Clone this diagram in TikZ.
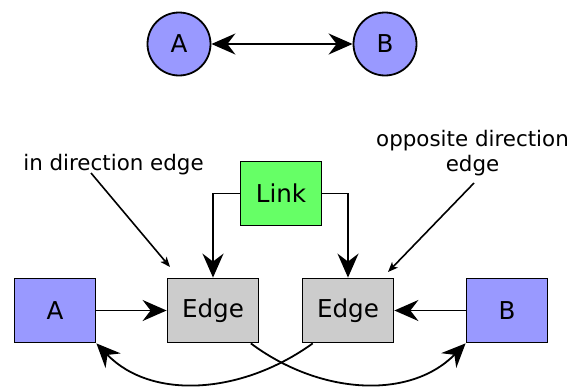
\documentclass[tikz,border=0pt]{standalone}
\usepackage{fontspec}
\setmainfont{DejaVu Sans}
\usetikzlibrary{arrows.meta}
\definecolor{nodeblue}{HTML}{9999FF}
\definecolor{linkgreen}{HTML}{66FF66}
\definecolor{edgegray}{HTML}{CCCCCC}
\begin{document}
\begin{tikzpicture}[x=1pt,y=-1pt,
  >={Stealth[length=24pt,width=21pt,inset=8pt]},
  every node/.style={font=\fontsize{24.6}{29}\selectfont},
  vertex/.style={circle,draw,line width=1.8pt,fill=nodeblue,minimum size=63pt,inner sep=0pt},
  boxbase/.style={rectangle,draw,line width=1.8pt,minimum height=64pt,inner sep=0pt},
  endbox/.style={boxbase,fill=nodeblue,minimum width=81pt},
  edgebox/.style={boxbase,fill=edgegray,minimum width=91pt},
  linkbox/.style={boxbase,fill=linkgreen,minimum width=81pt},
  conn/.style={line width=1.8pt,->},
  note/.style={font=\fontsize{21.4}{25}\selectfont,inner sep=0pt,align=center},
  pointer/.style={line width=1.6pt,-{Stealth[length=10pt,width=8pt,inset=2.5pt]}}]
\useasboundingbox (0,0) rectangle (571,388);

% graph view: two vertices joined by a bidirectional edge
\node[vertex] (cA) at (179,44) {A};
\node[vertex] (cB) at (385,44) {B};
\draw[line width=1.8pt,<->] (cA) -- (cB);

% data structure view
\node[endbox]  (a)    at (55,310.5)  {A};
\node[edgebox] (e1)   at (213,310.5) {Edge};
\node[edgebox] (e2)   at (348,310.5) {Edge};
\node[endbox]  (b)    at (507,310.5) {B};
\node[linkbox] (link) at (281,193.5) {Link};

\draw[conn] (a) -- (e1);
\draw[conn] (b) -- (e2);
\draw[conn] (link.west) -| (e1.north);
\draw[conn] (link.east) -| (e2.north);
\draw[conn] (e1.-41) .. controls (320,395) and (410,400) .. (b.south west);
\draw[conn] (e2.-137) .. controls (241,395) and (151,400) .. (a.south east);

% annotations
\node[note,anchor=base] (l1) at (113.5,170) {in direction edge};
\node[note] (l2) at (472.5,153.5) {opposite direction\\edge};
\coordinate (s1) at (91,173);
\coordinate (t1) at (170,267);
\coordinate (s2) at (474,183);
\coordinate (t2) at (388,272);
\draw[pointer] (s1) -- (t1);
\draw[pointer] (s2) -- (t2);
\end{tikzpicture}
\end{document}
